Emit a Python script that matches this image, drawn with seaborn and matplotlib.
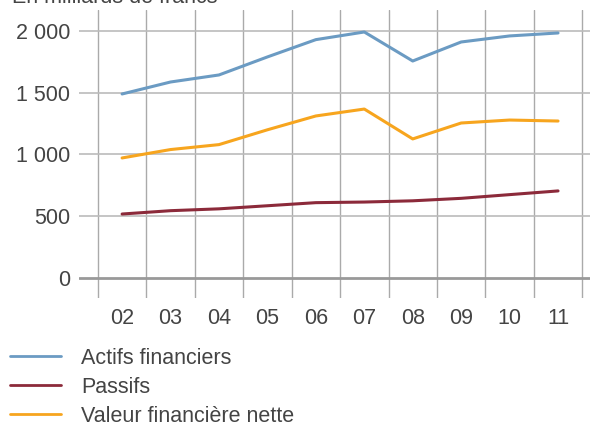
import matplotlib
matplotlib.use("Agg")
import matplotlib.pyplot as plt
import numpy as np
import pandas as pd
import seaborn as sns

# data (milliards de francs)
years = [2, 3, 4, 5, 6, 7, 8, 9, 10, 11]
year_labels = ["02", "03", "04", "05", "06", "07", "08", "09", "10", "11"]
actifs = [1490, 1587, 1644, 1790, 1930, 1992, 1757, 1911, 1960, 1984]
passifs = [518, 545, 560, 585, 610, 615, 625, 645, 675, 705]
valeur_nette = [972, 1040, 1080, 1200, 1312, 1368, 1126, 1255, 1279, 1271]
series_names = ["Actifs financiers", "Passifs", "Valeur financière nette"]
colors = ["#6b9bc3", "#8c2a3a", "#f7a51e"]
y_ticks = [0, 500, 1000, 1500, 2000]

df = pd.DataFrame({
    "annee": years * 3,
    "valeur": actifs + passifs + valeur_nette,
    "serie": [s for s in series_names for _ in years],
})

sns.set_style("white")
plt.rcParams["font.family"] = ["Liberation Sans", "DejaVu Sans"]
text_col = "#444444"
fs = 15.5

fig = plt.figure(figsize=(5.9, 4.25), dpi=100)
ax = fig.add_axes([79 / 590, 1 - 298 / 425, 1 - 79 / 590, 288 / 425])

sns.lineplot(data=df, x="annee", y="valeur", hue="serie", hue_order=series_names,
             palette=colors, linewidth=2.2, ax=ax, legend=False)

ax.set_xlim(1.11, 11.66)
ax.set_ylim(-162, 2170)

# horizontal grid at the value ticks, vertical grid between the years
ax.set_yticks(y_ticks)
ax.set_yticklabels([f"{v:,}".replace(",", " ") for v in y_ticks])
ax.set_xticks(years)
ax.set_xticklabels(year_labels)
ax.set_xticks(np.arange(1.5, 12, 1.0), minor=True)
for v in y_ticks:
    if v == 0:
        ax.axhline(v, color="#999999", lw=2.0, zorder=1)
    else:
        ax.axhline(v, color="#bbbbbb", lw=1.2, zorder=1)
ax.grid(False)
ax.grid(which="minor", axis="x", color="#aaaaaa", lw=1.0, zorder=0)

for s in ax.spines.values():
    s.set_visible(False)
ax.tick_params(which="both", length=0)
ax.tick_params(axis="y", labelsize=fs, labelcolor=text_col, pad=6.5)
ax.tick_params(axis="x", labelsize=fs, labelcolor=text_col, pad=7.5)
ax.set_xlabel("")
ax.set_ylabel("")

fig.text(12 / 590, 1 - 3 / 425, "En milliards de francs", fontsize=fs,
         color=text_col, va="baseline", ha="left")

handles = [plt.Line2D([], [], color=c, lw=2.0) for c in colors]
fig.legend(handles, series_names, loc="upper left", bbox_to_anchor=(10 / 590, 1 - 348 / 425),
           frameon=False, fontsize=fs, handlelength=2.35, handletextpad=0.95,
           labelspacing=0.36, labelcolor=text_col, borderaxespad=0, borderpad=0)

fig.savefig("out.png", dpi=100)
